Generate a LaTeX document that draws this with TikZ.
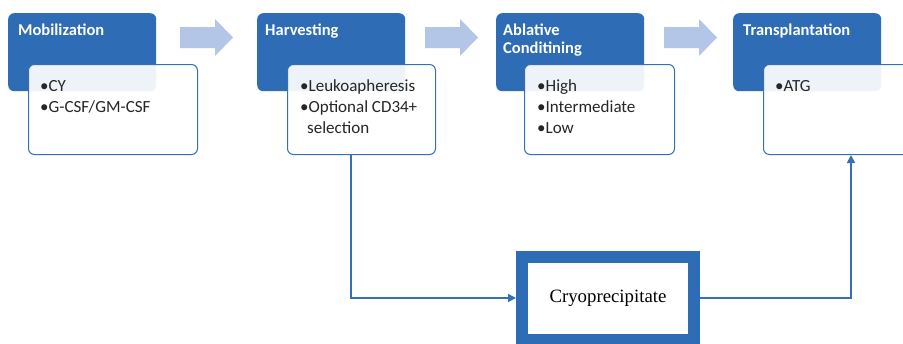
\documentclass[tikz,border=0pt]{standalone}
\usepackage{fontspec}
\setmainfont{Carlito}
\newfontfamily\cryofont{Liberation Serif}
\usetikzlibrary{arrows.meta,calc}
\definecolor{hdrblue}{RGB}{46,109,181}
\definecolor{lineblue}{RGB}{52,112,184}
\definecolor{arrowblue}{RGB}{180,198,231}
\tikzset{
  hdr/.style={fill=hdrblue, draw=none, rounded corners=6pt, minimum width=148pt, minimum height=78pt, anchor=north west, inner sep=0pt},
  hdrtext/.style={text=white, anchor=base west, inner sep=0pt, font=\fontsize{16.5}{20}\selectfont\bfseries},
  card/.style={fill=white, fill opacity=0.92, draw=lineblue, line width=1pt, rounded corners=6pt, minimum width=169pt, minimum height=90pt, anchor=north west, inner sep=0pt},
  item/.style={text=black!85, anchor=base west, inner sep=0pt, font=\fontsize{17}{21}\selectfont},
  conn/.style={draw=lineblue, line width=1.6pt, -{Triangle[length=8pt,width=8pt]}},
  stepkey/.style={fill=arrowblue, draw=none}
}
\begin{document}
\begin{tikzpicture}[x=1pt,y=-1pt]
\useasboundingbox (0,0) rectangle (903,343);
\clip (0,0) rectangle (903,343);
\fill[white] (0,0) rectangle (903,343);

% headers
\node[hdr] (mobH) at (8,13) {};
\node[hdr] (harH) at (257,13) {};
\node[hdr] (ablH) at (496,13) {};
\node[hdr] (traH) at (733,13) {};

% cards
\node[card] (mobC) at (28,64) {};
\node[card, minimum width=148pt] (harC) at (287,64) {};
\node[card, minimum width=150pt] (ablC) at (524,64) {};
\node[card, minimum width=190pt] (traC) at (763,64) {};

% header texts
\node[hdrtext] (mobT) at (18,35) {Mobilization};
\node[hdrtext] (harT) at (265,35) {Harvesting};
\node[hdrtext] (ablT1) at (503,35) {Ablative};
\node[hdrtext] (ablT2) at (503,53) {Conditining};
\node[hdrtext] (traT) at (743,35) {Transplantation};

% items
\node[item] (m1) at (40,91) {•CY};
\node[item] (m2) at (40,112) {•G-CSF/GM-CSF};
\node[item] (h1) at (300,91) {•Leukoapheresis};
\node[item] (h2) at (300,112) {•Optional CD34+};
\node[item] (h3) at (307,133) {selection};
\node[item] (a1) at (537,91) {•High};
\node[item] (a2) at (537,112) {•Intermediate};
\node[item] (a3) at (537,133) {•Low};
\node[item] (t1) at (775,91) {•ATG};

% light arrows between stages
\foreach \x in {180,425,664}{
  \fill[stepkey] (\x,27) -- (\x+35,27) -- (\x+35,19) -- (\x+53,37.5) -- (\x+35,56) -- (\x+35,48) -- (\x,48) -- cycle;
}

% cryoprecipitate
\node[draw=hdrblue, line width=12pt, fill=white, minimum width=172pt, minimum height=83pt, outer sep=6pt, inner sep=0pt, font=\cryofont\fontsize{18.8}{22}\selectfont] (cryo) at (608,298) {Cryoprecipitate};

% connectors
\draw[conn] ($(harC.south west)+(64,0)$) |- (cryo.west);
\draw[conn] (cryo.east) -| ($(traC.south west)+(88,0)$);
\end{tikzpicture}
\end{document}
